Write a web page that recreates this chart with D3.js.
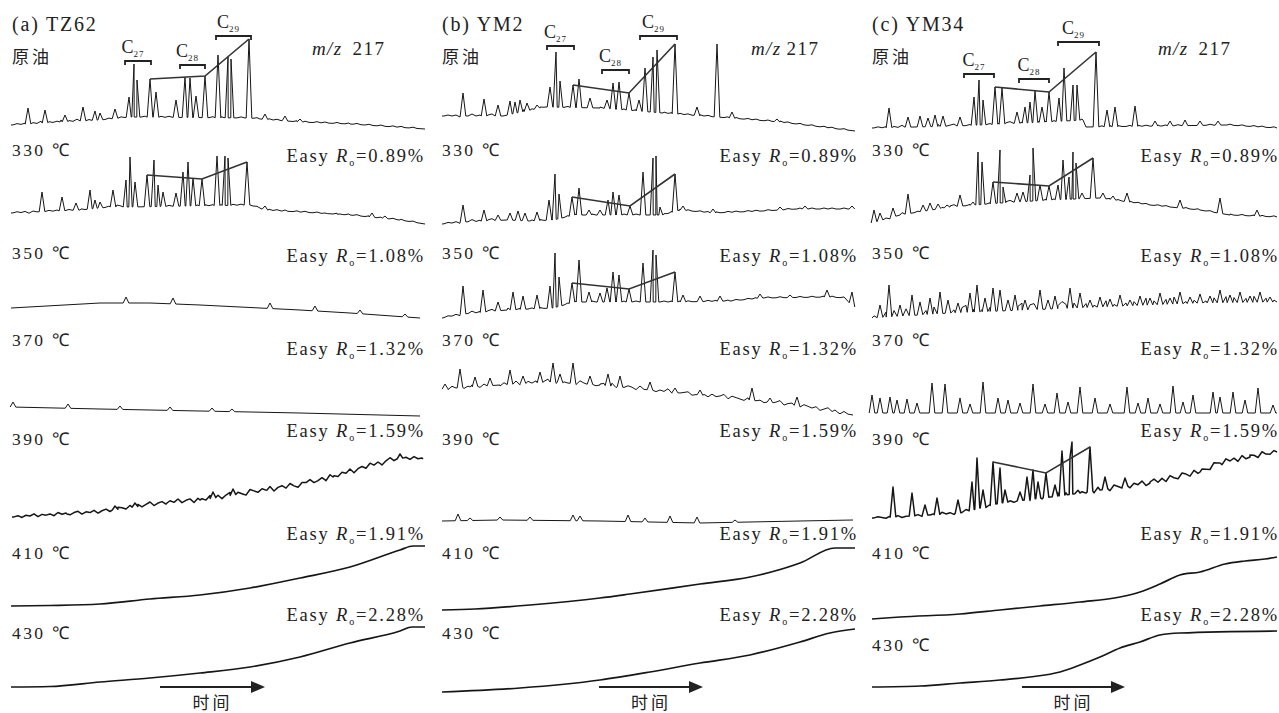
<!DOCTYPE html>
<html lang="zh">
<head>
<meta charset="UTF-8" />
<title>m/z 217 甾烷 热模拟</title>
<script src="https://unpkg.com/d3@7/dist/d3.min.js"></script>
<style>
  body { margin: 0; background: #fff; }
  svg { display: block; }
  .lat { font-family: "Liberation Serif", "Times New Roman", serif; fill: #222; }
  .cjk { font-family: "Noto Sans CJK SC", sans-serif; fill: #222; }
  .trace { fill: none; stroke: #161616; stroke-width: 1; stroke-linejoin: round; }
  .link { fill: none; stroke: #333; stroke-width: 1.6; }
  .bracket { fill: none; stroke: #222; stroke-width: 1.8; }
</style>
</head>
<body>
<svg id="chart" width="1279" height="713"></svg>
<script>
// ---- labels ----
const panelTitles = ["(a) TZ62", "(b) YM2", "(c) YM34"];
const rowLabels   = ["原油", "330 ℃", "350 ℃", "370 ℃", "390 ℃", "410 ℃", "430 ℃"];
const easyRo      = [null, "0.89", "1.08", "1.32", "1.59", "1.91", "2.28"];
const steraneNums = ["27", "28", "29"];

// ---- (a) TZ62 : baseline [time, intensity] and peak apexes [time, intensity], one list per row ----
const tzBase = [
  [[1,7],[50,10],[90,12],[120,15],[240,14],[250,13],[290,10],[340,8],[415,3]],
  [[1,13],[70,16],[100,19],[120,19],[240,21],[255,16],[290,14],[340,11],[390,6],[415,2]],
  [[1,14],[90,19],[140,19],[190,17],[290,12],[340,9],[410,4]],
  [[1,11],[90,9],[190,7],[290,5],[410,2]],
  [[2,7],[57,10],[90,12],[123,17],[157,21],[190,24],[223,29],[257,34],[290,39],[323,47],[357,57],[390,66],[413,65]],
  [[1,16],[40,16.5],[90,18],[140,23],[190,27],[240,34],[290,44],[340,55],[390,72],[403,76],[415,76]],
  [[1,7],[40,7.5],[90,12],[140,16],[190,21],[240,27],[290,37],[340,51],[390,63],[402,67],[415,67]]
];
const tzPeaks = [
  [[18,24],[35,22],[55,17],[73,25],[85,21],[90,19],[105,23],[119,35],[124,68],[127,52],[140,53],[146,40],[166,32],[175,55],[180,54],[186,36],[195,56],[208,77],[218,75],[221,73],[239,93],[255,18],[275,16],[290,13]],
  [[32,34],[52,29],[66,23],[80,36],[85,26],[90,24],[103,36],[116,46],[120,69],[125,44],[137,51],[144,66],[148,41],[153,34],[166,33],[173,54],[178,64],[183,48],[192,47],[207,70],[215,70],[218,68],[237,64],[255,20],[275,16],[315,13],[330,12],[362,13],[375,10]],
  [[116,25],[163,24],[260,19],[305,16],[350,12],[395,8]],
  [[3,16],[58,14],[110,12],[160,11],[202,10],[222,9]],
  [[105,18],[125,21],[203,32],[223,35],[390,70]],
  [], []
];
const tzNoiseCrude = [0,1,0,1,-1,1,0,2,0,1,0,1,2,0,1,0,2,1,0,1,2,0,1,0,1,0,2,1,0,1,0,1,0,1,2,0,1,1,0,1,0,1,0,1,0,1,1,0,1,0,1,0,1,0,0,1,0,1,0,1,0,1,0,0,1,0,1,0,1,0,0,1,0,1,0,0,1,0,1,0,0,1,0,0,1,0,1,0,0,1,0,0,1,0,0,1,0,1,0,0,1,0,0,1];
const tzJitter390 = [0,1,-1,1,0,2,-1,1,0,1,-1,2,0,1,-1,1,2,-1,1,0,2,-1,1,2,-1,0,2,1,-1,2,0,2,-1,1,3,-1,1,2,-1,2,0,3,-1,1,2,-2,2,1,-1,3,0,2,-2,1,3,-1,2,0,-2,3,1,-1,2,0,3,-2,1,2,-1,3,0,-2,2,1,3,-1,0,2,-2,3,1,-1,2,0,3,-2,1,2,-1,3,0,2,-2,1,3,-1,2,0,1,-1,2,0,1];
const tzLinks    = [[140,195,239],[137,192,237]];
const tzBrackets = [[115,141,71],[170,195,67],[206,241,96]];

// ---- (b) YM2 ----
const ymBase = [
  [[2,16],[63,16],[105,25],[160,24],[223,19],[290,14],[340,10],[415,1]],
  [[2,2],[23,4],[67,6],[90,5],[113,6],[135,11],[172,11],[223,11],[240,16],[273,13],[323,15],[357,17],[413,17]],
  [[2,4],[23,8],[67,12],[113,14],[135,20],[237,20],[290,21],[323,24],[390,25],[405,24],[413,15]],
  [[2,29],[30,31],[60,33],[110,36],[160,33],[210,28],[260,23],[310,18],[360,12],[413,3]],
  [[2,3],[60,4],[160,3],[260,1],[360,3],[413,4]],
  [[2,12],[35,13],[90,17],[160,24],[190,28],[260,38],[310,45],[360,59],[395,74],[415,74]],
  [[2,2],[80,6],[160,14],[210,22],[260,31],[310,39],[360,52],[390,61],[415,65]]
];
const ymPeaks = [
  [[23,39],[44,33],[58,27],[70,31],[75,30],[80,32],[87,29],[97,27],[110,45],[116,80],[120,51],[133,47],[139,53],[150,34],[167,32],[173,49],[179,50],[189,39],[199,32],[205,64],[213,75],[217,82],[235,88],[257,25],[277,88],[292,20],[337,13]],
  [[23,21],[44,16],[58,11],[70,13],[78,15],[85,13],[97,14],[109,26],[115,52],[119,32],[132,29],[139,38],[149,16],[160,16],[168,26],[173,34],[179,31],[190,20],[203,54],[213,68],[216,70],[220,19],[235,52],[243,20],[273,17],[340,19],[365,20],[412,20]],
  [[23,36],[43,32],[58,20],[73,30],[83,26],[97,27],[110,36],[115,69],[119,45],[132,39],[139,62],[149,30],[160,29],[167,34],[173,50],[179,47],[189,33],[203,59],[213,72],[216,67],[235,50],[243,27],[260,26],[280,26],[320,28],[350,27],[387,32],[412,30]],
  [[5,34],[20,49],[35,41],[50,40],[70,48],[83,42],[100,46],[113,55],[120,44],[133,55],[150,42],[168,44],[180,42],[210,36],[235,30],[260,28],[312,30],[330,20],[357,21],[395,8]],
  [[18,10],[30,6],[60,7],[90,7],[133,9],[140,8],[188,9],[205,6],[230,8],[257,7],[295,4]],
  [], []
];
const ymNoise370 = [1,-1,2,0,3,-1,1,2,0,-1,2,1,3,0,-1,2,0,1,3,-1,1,2,0,2,-1,1,3,0,-1,2,1,0,2,-1,3,1,0,2,-1,1,2,0,3,-1,1,0,2,1,-1,3,0,1,2,-1,1,0,3,-1,2,0,1,2,-1,0,3,1,-1,2,0,1,3,-1,2,1,0,-1,2,3,0,1,-1,2,0,1,3,-1,1,2,0,-1,2,1,0,2,-1,1,3,0,1,-1,2,0];
const ymLinks    = [[133,189,235],[132,190,235],[132,189,235]];
const ymBrackets = [[107,134,86],[162,189,62],[200,237,96]];

// ---- (c) YM34 ----
const ycBase = [
  [[2,4],[87,6],[177,10],[213,12],[216,5],[290,6],[357,7],[407,4]],
  [[2,3],[30,11],[80,19],[130,23],[180,26],[230,28],[280,21],[330,16],[360,11],[407,9]],
  [[2,4],[80,9],[130,11],[230,15],[330,19],[407,20]],
  [[2,5],[407,5]],
  [[2,6],[60,9],[90,11],[130,21],[180,27],[210,31],[230,34],[280,41],[330,52],[350,61],[380,67],[407,72]],
  [[2,3],[30,5],[90,8],[130,12],[170,16],[210,20],[250,25],[270,30],[290,38],[310,47],[330,50],[355,58],[375,61],[395,63],[407,65]],
  [[2,7],[50,8],[90,11],[130,14],[160,17],[190,22],[210,29],[230,37],[250,46],[270,52],[290,59],[310,61],[407,63]]
];
const ycPeaks = [
  [[19,24],[38,15],[50,16],[58,14],[65,17],[73,16],[90,15],[104,35],[109,52],[113,32],[125,45],[132,44],[147,20],[155,25],[160,30],[165,41],[172,25],[179,40],[189,34],[194,64],[203,47],[207,47],[226,80],[237,22],[245,25],[265,26],[285,11],[300,11],[315,12],[330,11],[348,11]],
  [[4,16],[10,13],[23,18],[38,32],[53,21],[60,23],[68,22],[77,21],[90,31],[103,24],[108,74],[112,64],[123,44],[130,76],[133,39],[147,33],[153,34],[160,51],[163,78],[170,41],[179,40],[188,41],[193,66],[199,49],[203,74],[206,63],[212,33],[223,68],[233,33],[243,30],[257,33],[310,26],[350,28],[387,16]],
  [[10,17],[19,37],[30,17],[42,27],[50,20],[60,24],[70,30],[78,22],[88,19],[100,29],[107,37],[115,24],[123,34],[130,32],[138,22],[145,27],[155,22],[170,32],[178,22],[185,26],[200,34],[210,29],[220,22],[230,25],[240,23],[250,27],[260,22],[270,26],[280,24],[290,29],[300,24],[310,30],[320,25],[330,28],[340,26],[350,32],[360,27],[370,30],[380,26],[390,30],[400,25]],
  [[2,23],[10,20],[20,21],[27,18],[37,19],[47,15],[62,35],[75,34],[90,20],[100,14],[113,36],[128,20],[138,18],[150,15],[163,34],[175,14],[187,25],[198,16],[210,31],[225,20],[240,14],[257,31],[268,15],[278,20],[290,14],[303,32],[313,16],[323,23],[343,26],[350,21],[363,26],[375,18],[388,30],[403,13]],
  [[23,37],[42,31],[55,19],[67,26],[88,24],[102,42],[107,66],[113,34],[123,62],[130,56],[135,34],[150,32],[157,47],[163,54],[168,42],[176,51],[185,39],[192,73],[200,67],[202,82],[220,77],[235,47],[255,46]],
  [], []
];
const ycNoise350 = [2,4,1,5,3,6,2,4,7,3,5,2,6,4,3,7,2,5,4,6,3,2,5,7,4,3,6,2,5,4,7,3,2,6,5,3,4,7,2,5,6,3,4,2,6,5,3,7,4,2,5,6,3,4,7,2,5,3,6,4,2,7,5,3,6,4,2,5,7,3,4,6,2,5,3,7,4,6,2,5,3,4,6,2,7,5,3,4,6,2,5,3,7,4,2,6,5,3,4,6,2,5];
const ycJitter390 = [0,1,0,-1,1,0,1,-1,0,1,0,1,-1,1,0,1,-1,2,0,1,-1,1,0,2,-1,1,0,2,-1,1,2,0,-1,2,1,-1,2,0,1,-1,2,1,-1,2,0,1,3,-1,2,0,-2,3,1,-1,2,-2,3,0,2,-2,3,1,-1,3,-2,2,0,3,-2,1,3,-1,2,-2,3,0,-2,3,1,-2,3,-1,2,0,-2,3,1,-2,3,0,2,-2,3,-1,2,1,-2,3,0,-1,2,1];
const ycLinks    = [[125,179,226],[123,179,223],null,null,[123,176,220]];
const ycBrackets = [[94,124,58],[149,179,53],[188,229,90]];

// ---- assemble per-panel table ----
const samples = [
  { base: tzBase, peaks: tzPeaks, links: tzLinks, brackets: tzBrackets, jitter: { 0: tzNoiseCrude, 1: tzNoiseCrude, 4: tzJitter390 } },
  { base: ymBase, peaks: ymPeaks, links: ymLinks, brackets: ymBrackets, jitter: { 0: tzNoiseCrude, 1: tzNoiseCrude, 2: tzNoiseCrude, 3: ymNoise370 } },
  { base: ycBase, peaks: ycPeaks, links: ycLinks, brackets: ycBrackets, jitter: { 0: tzNoiseCrude, 1: tzNoiseCrude, 2: ycNoise350, 4: ycJitter390 } }
];

// ---- layout ----
const X0 = [10, 440, 870];
const W  = [415, 415, 408];
const ROW_BOTTOM = [132, 226, 322, 418, 524, 622, 694];
const LABEL_Y = [57, 150, 253, 340, 439, 553, 633];
const EASY_Y  = [null, 156, 256, 349, 431, 534, 615];
const EASY_RIGHT = [425, 858, 1279];
const MZ_X = [312, 751, 1158];
const ARROW = [[150, 255], [159, 263], [152, 255]];
const HALF = 2.8, JIT_STEP = 4;

const svg = d3.select("#chart");

function buildTrace(base, peaks, jit) {
  const baseAt = d3.scaleLinear().domain(base.map(d => d[0])).range(base.map(d => d[1])).clamp(true);
  const inPeak = t => peaks.some(p => Math.abs(p[0] - t) < HALF);
  const pts = base.filter(d => !inPeak(d[0])).map(d => [d[0], d[1]]);
  if (jit) {
    const t0 = base[0][0], t1 = base[base.length - 1][0];
    jit.forEach((j, i) => {
      const t = t0 + (i + 0.5) * JIT_STEP;
      if (t < t1 && !inPeak(t)) pts.push([t, baseAt(t) + j]);
    });
  }
  peaks.forEach(p => {
    pts.push([p[0] - HALF, baseAt(p[0] - HALF)], [p[0], p[1]], [p[0] + HALF, baseAt(p[0] + HALF)]);
  });
  pts.sort((a, b) => a[0] - b[0]);
  return pts;
}

samples.forEach((s, p) => {
  const g = svg.append("g");
  const x = d3.scaleLinear().domain([0, W[p]]).range([X0[p], X0[p] + W[p]]);

  g.append("text").attr("class", "lat")
    .attr("x", X0[p] + 2).attr("y", 31)
    .style("font-size", "20px").style("letter-spacing", "1.8px")
    .text(panelTitles[p]);

  const mz = g.append("text").attr("class", "lat")
    .attr("x", MZ_X[p]).attr("y", 55)
    .style("font-size", "19px").style("letter-spacing", "1.4px");
  mz.append("tspan").style("font-style", "italic").text("m/z");
  mz.append("tspan").attr("dx", p === 1 ? 5 : 10).text("217");

  rowLabels.forEach((lab, r) => {
    const y = d3.scaleLinear().domain([0, 100]).range([ROW_BOTTOM[r], ROW_BOTTOM[r] - 100]);
    const line = d3.line().x(d => x(d[0])).y(d => y(d[1]))
      .curve(r >= 5 ? d3.curveMonotoneX : d3.curveLinear);

    if (r === 0) {
      g.append("text").attr("class", "cjk")
        .attr("x", X0[p] + 2).attr("y", LABEL_Y[r] + 6)
        .style("font-size", "17px").style("letter-spacing", "3px")
        .text(lab);
    } else {
      g.append("text").attr("class", "lat")
        .attr("x", X0[p] + 2).attr("y", (p === 2 && r === 6 ? LABEL_Y[r] + 12 : LABEL_Y[r]) + 6)
        .style("font-size", "17.5px").style("letter-spacing", "2.4px")
        .text(lab);
      const e = g.append("text").attr("class", "lat")
        .attr("x", EASY_RIGHT[p]).attr("y", EASY_Y[r] + 6)
        .attr("text-anchor", "end")
        .style("font-size", "18.5px").style("letter-spacing", "1.8px");
      e.append("tspan").text("Easy ");
      e.append("tspan").style("font-style", "italic").text("R");
      e.append("tspan").attr("dy", 4).style("font-size", "10px").text("o");
      e.append("tspan").attr("dy", -4).text("=" + easyRo[r] + "%");
    }

    const pts = buildTrace(s.base[r], s.peaks[r], s.jitter[r]);
    g.append("path").attr("class", "trace")
      .attr("d", line(pts))
      .style("stroke-width", r >= 5 ? 1.7 : (r === 4 && s.jitter[r] ? 1.5 : 1));

    const lk = s.links[r];
    if (lk) {
      const apex = lk.map(t => s.peaks[r].find(q => q[0] === t));
      g.append("path").attr("class", "link")
        .attr("d", d3.line().x(d => x(d[0])).y(d => y(d[1]))(apex));
    }

    if (r === 0) {
      s.brackets.forEach((b, i) => {
        const by = y(b[2]);
        g.append("path").attr("class", "bracket")
          .attr("d", `M${x(b[0])},${by + 4}V${by}H${x(b[1])}V${by + 4}`);
        const t = g.append("text").attr("class", "lat")
          .attr("x", x((b[0] + b[1]) / 2) - 5).attr("y", by - 8)
          .attr("text-anchor", "middle")
          .style("font-size", "18px");
        t.append("tspan").text("C");
        t.append("tspan").attr("dy", 4).style("font-size", "9px").style("letter-spacing", "1px").text(steraneNums[i]);
      });
    }
  });

  // time arrow
  const ay = 687;
  const [a0, a1] = ARROW[p];
  g.append("line").attr("x1", x(a0)).attr("x2", x(a1) - 12).attr("y1", ay).attr("y2", ay)
    .attr("stroke", "#222").attr("stroke-width", 2);
  g.append("path").attr("d", `M${x(a1)},${ay}L${x(a1) - 14},${ay - 6}L${x(a1) - 14},${ay + 6}Z`).attr("fill", "#222");
  g.append("text").attr("class", "cjk")
    .attr("x", x((a0 + a1) / 2)).attr("y", 709)
    .attr("text-anchor", "middle")
    .style("font-size", "17px").style("letter-spacing", "3px")
    .text("时间");
});
</script>
</body>
</html>
